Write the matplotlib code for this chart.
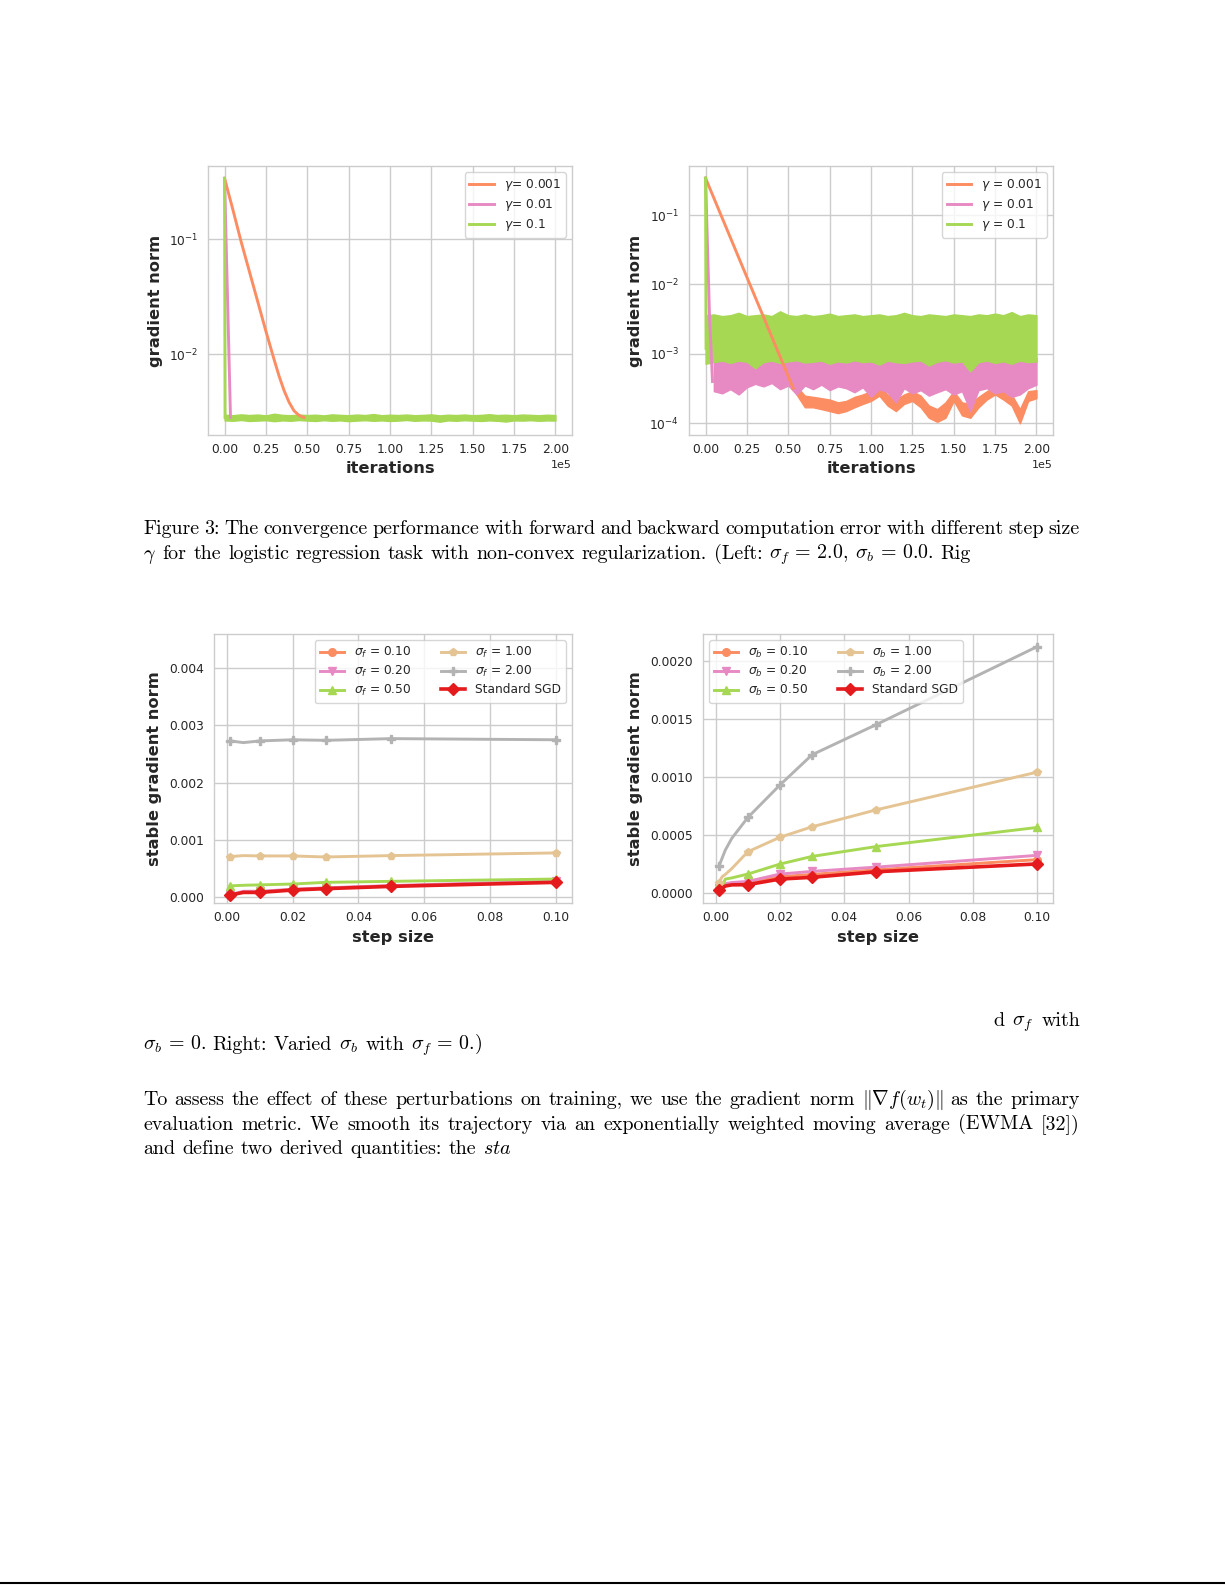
import numpy as np
import matplotlib
matplotlib.use("Agg")
import matplotlib.pyplot as plt
from matplotlib.lines import Line2D
from matplotlib.ticker import MultipleLocator

W, H = 1225, 1585

ORANGE = "#fc8d62"
PINK = "#e78ac3"
GREEN = "#a6d854"
TAN = "#e5c494"
GRAY = "#b3b3b3"
RED = "#e41a1c"

# ---- top row: gradient norm vs iterations ----
ITER_GRID = np.arange(0, 200001, 5000)  # 41 samples for the noisy plateaus

TL_LABELS = [r"$\gamma$= 0.001", r"$\gamma$= 0.01", r"$\gamma$= 0.1"]
TR_LABELS = [r"$\gamma$ = 0.001", r"$\gamma$ = 0.01", r"$\gamma$ = 0.1"]

# left panel (sigma_f = 2.0, sigma_b = 0.0)
TL_ORANGE_X = [0, 5000, 10000, 15000, 20000, 25000, 30000, 33000, 36000, 39000, 42000, 45000, 48000]
TL_ORANGE_Y = [0.340, 0.182, 0.0955, 0.0525, 0.0288, 0.0158, 0.0089, 0.0064, 0.0048, 0.0038,
               0.0032, 0.00292, 0.00280]
TL_PINK_X = [0, 3600]
TL_PINK_Y = [0.340, 0.0028]
TL_GREEN_X = [0, 300]
TL_GREEN_Y = [0.340, 0.0028]
TL_FLOOR_HI = [2.96, 2.93, 2.98, 2.94, 2.97, 2.92, 3.02, 2.95, 2.93, 2.97, 2.94, 2.96, 2.92, 2.98,
               2.95, 2.93, 2.97, 2.94, 3.00, 2.93, 2.96, 2.94, 2.97, 2.93, 2.95, 2.98, 2.92, 2.96,
               2.94, 2.97, 2.93, 2.95, 2.99, 2.94, 2.96, 2.93, 2.97, 2.95, 2.93, 2.96, 2.94]  # 1e-3
TL_FLOOR_LO = [2.64, 2.62, 2.66, 2.61, 2.63, 2.65, 2.60, 2.64, 2.62, 2.66, 2.63, 2.61, 2.65, 2.62,
               2.64, 2.60, 2.63, 2.65, 2.62, 2.64, 2.61, 2.63, 2.66, 2.62, 2.64, 2.63, 2.57, 2.64,
               2.62, 2.65, 2.63, 2.61, 2.64, 2.62, 2.58, 2.64, 2.63, 2.65, 2.62, 2.64, 2.63]  # 1e-3

# right panel
TR_ORANGE_X = [0, 53000]
TR_ORANGE_Y = [0.340, 3.2e-4]
TR_PINK_X = [0, 2400, 4200]
TR_PINK_Y = [0.340, 3.5e-3, 4.0e-4]
TR_GREEN_X = [0, 300]
TR_GREEN_Y = [0.340, 1.2e-3]
# green plateau, x = 0 .. 200k (1e-3)
TR_GREEN_HI = [3.6, 3.7, 3.5, 3.6, 3.9, 3.5, 3.6, 3.7, 3.5, 4.1, 3.6, 3.5, 3.7, 3.5, 3.6, 3.8, 3.5,
               3.6, 3.7, 3.5, 3.6, 3.7, 3.5, 3.6, 3.9, 3.6, 3.5, 3.7, 3.6, 3.5, 3.7, 3.6, 3.5, 3.7,
               3.6, 3.8, 3.6, 4.0, 3.5, 3.7, 3.6]
TR_GREEN_LO = [0.72, 0.76, 0.80, 0.74, 0.80, 0.77, 0.62, 0.76, 0.80, 0.74, 0.78, 0.81, 0.75, 0.77,
               0.80, 0.72, 0.78, 0.75, 0.81, 0.76, 0.78, 0.70, 0.80, 0.76, 0.74, 0.78, 0.80, 0.68,
               0.77, 0.81, 0.75, 0.78, 0.56, 0.76, 0.80, 0.74, 0.78, 0.72, 0.80, 0.76, 0.78]
# pink plateau, x = 5k .. 200k (1e-4)
TR_PINK_HI = [9.0, 8.5, 8.8, 8.2, 9.2, 8.6, 8.9, 8.4, 9.0, 8.7, 8.3, 9.1, 8.6, 8.8, 8.4, 9.0, 8.5,
              8.9, 8.2, 8.7, 9.0, 8.4, 8.8, 8.6, 9.1, 8.3, 8.7, 8.9, 8.5, 8.8, 8.2, 9.0, 8.6, 8.4,
              8.9, 8.7, 8.5, 9.0, 8.6, 8.8]
TR_PINK_LO = [2.9, 2.7, 3.1, 2.6, 3.3, 3.7, 3.4, 3.8, 3.1, 3.5, 2.6, 3.5, 3.1, 3.6, 3.0, 3.4, 3.2,
              2.8, 3.3, 2.4, 3.1, 2.8, 2.0, 3.2, 2.7, 3.0, 2.5, 2.8, 3.1, 2.6, 2.9, 1.5, 3.0, 3.2,
              2.7, 2.9, 2.4, 2.6, 3.2, 3.6]
# orange plateau, x = 55k .. 200k (1e-4)
TR_ORANGE_HI = [3.4, 2.5, 2.4, 2.3, 2.2, 2.0, 2.1, 2.4, 2.6, 2.9, 3.4, 2.6, 2.2, 2.6, 2.9, 2.5, 1.8,
                1.6, 2.0, 2.9, 2.0, 1.9, 2.4, 2.9, 3.4, 2.9, 2.6, 1.6, 2.9, 3.0]
TR_ORANGE_LO = [2.6, 1.7, 1.7, 1.6, 1.5, 1.4, 1.5, 1.7, 1.9, 2.1, 2.5, 1.8, 1.5, 1.9, 2.1, 1.7, 1.2,
                1.05, 1.2, 2.1, 1.3, 1.2, 1.7, 2.2, 2.6, 2.2, 1.8, 1.0, 2.1, 2.3]

# ---- bottom row: stable gradient norm vs step size ----
STEP_L = [0.001, 0.005, 0.01, 0.02, 0.03, 0.05, 0.1]
BL_SERIES = {
    "0.10": [0.000030, 0.000090, 0.000090, 0.000130, 0.000155, 0.000195, 0.000265],
    "0.20": [0.000040, 0.000100, 0.000100, 0.000135, 0.000160, 0.000200, 0.000280],
    "0.50": [0.000195, 0.000205, 0.000212, 0.000227, 0.000256, 0.000274, 0.000314],
    "1.00": [0.000707, 0.000724, 0.000718, 0.000718, 0.000700, 0.000724, 0.000771],
    "2.00": [0.002730, 0.002700, 0.002730, 0.002750, 0.002740, 0.002770, 0.002750],
}
BL_SGD = [0.000035, 0.000080, 0.000080, 0.000122, 0.000146, 0.000186, 0.000256]

STEP_R = [0.001, 0.002, 0.003, 0.005, 0.01, 0.02, 0.03, 0.05, 0.1]
BR_SERIES = {
    "0.10": [0.000035, 0.000050, 0.000070, 0.000080, 0.000090, 0.000140, 0.000160, 0.000200, 0.000287],
    "0.20": [0.000040, 0.000060, 0.000080, 0.000090, 0.000100, 0.000163, 0.000186, 0.000223, 0.000324],
    "0.50": [0.000080, 0.000060, 0.000120, 0.000130, 0.000163, 0.000249, 0.000315, 0.000400, 0.000564],
    "1.00": [0.000090, 0.000140, 0.000160, 0.000210, 0.000355, 0.000480, 0.000570, 0.000716, 0.001040],
    "2.00": [0.000229, 0.000300, 0.000370, 0.000470, 0.000650, 0.000930, 0.001190, 0.001450, 0.002120],
}
BR_SGD = [0.000028, 0.000040, 0.000060, 0.000070, 0.000072, 0.000120, 0.000135, 0.000183, 0.000250]

SIGMA_COLORS = [ORANGE, PINK, GREEN, TAN, GRAY]
SIGMA_MARKERS = ["o", "v", "^", "p", "P"]

plt.rcParams.update({
    "font.family": "DejaVu Sans",
    "font.size": 8.6,
    "axes.facecolor": "white",
    "axes.edgecolor": "#cccccc",
    "axes.linewidth": 1.0,
    "axes.grid": True,
    "axes.axisbelow": True,
    "grid.color": "#cccccc",
    "grid.linewidth": 1.0,
    "text.color": "#262626",
    "axes.labelcolor": "#262626",
    "xtick.color": "#262626",
    "ytick.color": "#262626",
    "xtick.major.size": 0,
    "ytick.major.size": 0,
    "xtick.minor.size": 0,
    "ytick.minor.size": 0,
    "legend.edgecolor": "#cccccc",
    "legend.framealpha": 0.8,
    "legend.fontsize": 8.8,
    "legend.labelspacing": 0.32,
})

fig = plt.figure(figsize=(W / 100, H / 100), dpi=100)


def box(left, top, right, bottom):
    return [left / W, 1 - bottom / H, (right - left) / W, (bottom - top) / H]


def style_axes(ax, xlabel, ylabel, ylab_x, xlab_y):
    ax.set_xlabel(xlabel, fontsize=11.7, fontweight="bold")
    ax.set_ylabel(ylabel, fontsize=11.7, fontweight="bold")
    ax.yaxis.set_label_coords(ylab_x, 0.5)
    ax.xaxis.set_label_coords(0.5, xlab_y)
    ax.tick_params(axis="x", pad=6, labelsize=8.8)
    ax.tick_params(axis="y", pad=7, labelsize=8.8)


def iter_axes(ax):
    ax.set_yscale("log")
    ax.set_xlim(-10000, 210000)
    ax.xaxis.set_major_locator(MultipleLocator(25000))
    ax.ticklabel_format(style="sci", axis="x", scilimits=(0, 0))
    ax.xaxis.get_offset_text().set_fontsize(8)
    ax.grid(True, which="major")
    ax.grid(False, which="minor")


# top-left
ax = fig.add_axes(box(208, 166, 572, 435))
ax.plot(TL_ORANGE_X, TL_ORANGE_Y, color=ORANGE, lw=2.1, label=TL_LABELS[0])
ax.plot(TL_PINK_X, TL_PINK_Y, color=PINK, lw=2.1, label=TL_LABELS[1])
ax.plot(TL_GREEN_X, TL_GREEN_Y, color=GREEN, lw=2.1, label=TL_LABELS[2])
ax.fill_between(ITER_GRID, np.array(TL_FLOOR_LO) * 1e-3, np.array(TL_FLOOR_HI) * 1e-3,
                color=GREEN, lw=1)
iter_axes(ax)
ax.set_ylim(0.00197, 0.435)
style_axes(ax, "iterations", "gradient norm", -0.124, -0.095)
ax.legend(loc="upper right")

# top-right
ax = fig.add_axes(box(689, 166, 1053, 435))
ax.plot(TR_ORANGE_X, TR_ORANGE_Y, color=ORANGE, lw=2.1, label=TR_LABELS[0])
ax.fill_between(ITER_GRID[11:], np.array(TR_ORANGE_LO) * 1e-4, np.array(TR_ORANGE_HI) * 1e-4,
                color=ORANGE, lw=1)
ax.plot(TR_PINK_X, TR_PINK_Y, color=PINK, lw=2.1, label=TR_LABELS[1])
ax.fill_between(ITER_GRID[1:], np.array(TR_PINK_LO) * 1e-4, np.array(TR_PINK_HI) * 1e-4,
                color=PINK, lw=1)
ax.plot(TR_GREEN_X, TR_GREEN_Y, color=GREEN, lw=2.1, label=TR_LABELS[2])
ax.fill_between(ITER_GRID, np.array(TR_GREEN_LO) * 1e-3, np.array(TR_GREEN_HI) * 1e-3,
                color=GREEN, lw=1)
iter_axes(ax)
ax.set_ylim(6.78e-5, 0.508)
style_axes(ax, "iterations", "gradient norm", -0.126, -0.095)
ax.legend(loc="upper right")


def step_panel(rect, xs, series, sgd, sub, skip, ylim, ylab_x, loc):
    ax = fig.add_axes(rect)
    marks = [i for i in range(len(xs)) if i not in skip]
    for (lab, ys), c, m in zip(series.items(), SIGMA_COLORS, SIGMA_MARKERS):
        ax.plot(xs, ys, color=c, marker=m, ms=5.5, lw=2.1, markevery=marks,
                label=rf"$\sigma_{sub}$ = {lab}")
    ax.plot(xs, sgd, color=RED, marker="D", ms=6, lw=2.6, markevery=marks, label="Standard SGD")
    ax.set_ylim(*ylim)
    style_axes(ax, "step size", "stable gradient norm", ylab_x, -0.10)
    ax.legend(loc=loc, ncol=2, columnspacing=2.4)
    return ax


step_panel(box(214, 634, 572, 903), STEP_L, BL_SERIES, BL_SGD, "f", [1],
           (-0.000105, 0.0046), -0.146, "upper right")
step_panel(box(703, 634, 1053, 903), STEP_R, BR_SERIES, BR_SGD, "b", [1, 2, 3],
           (-0.000086, 0.002229), -0.172, "upper left")

# ---- page text ----
BODY = 14.4
renderer = fig.canvas.get_renderer()


def body_line(words, baseline, x0, x1=None):
    texts, widths = [], []
    for w in words:
        t = fig.text(0, 0, w, fontsize=BODY, family="cmr10", math_fontfamily="cm",
                     color="black", va="baseline", ha="left")
        texts.append(t)
        widths.append(t.get_window_extent(renderer).width)
    gap = BODY * 100 / 72 * 0.34
    if x1 is not None and len(words) > 1:
        gap = (x1 - x0 - sum(widths)) / (len(words) - 1)
    x = x0
    for t, w in zip(texts, widths):
        t.set_position((x / W, 1 - baseline / H))
        x += w + gap


EQ = r"\,{=}\,"
LINE1 = "Figure 3: The convergence performance with forward and backward computation error with different step size".split()
LINE2 = ("$\\gamma$ for the logistic regression task with non-convex regularization. (Left: "
         f"$\\sigma_f{EQ}2.0$, $\\sigma_b{EQ}0.0$. Rig").split()
LINE3 = ["d", r"$\sigma_f$", "with"]
LINE4 = f"$\\sigma_b{EQ}0$. Right: Varied $\\sigma_b$ with $\\sigma_f{EQ}0$.)".split()
LINE5 = r"To assess the effect of these perturbations on training, we use the gradient norm $\Vert\nabla{f}(w_t)\Vert$ as the primary".split()
LINE6 = "evaluation metric. We smooth its trajectory via an exponentially weighted moving average (EWMA [32])".split()
LINE7 = r"and define two derived quantities: the $\mathit{sta}$".split()

body_line(LINE1, 534, 143, 1080)
body_line(LINE2, 558.5, 143, 971)
body_line(LINE3, 1026, 993, 1080)
body_line(LINE4, 1050, 143)
body_line(LINE5, 1105, 143, 1080)
body_line(LINE6, 1129.5, 143, 1080)
body_line(LINE7, 1154, 143, 512)

fig.add_artist(Line2D([0, 1], [1 - 1583 / H, 1 - 1583 / H], color="black", lw=1.5))

fig.savefig("out.png", dpi=100)
